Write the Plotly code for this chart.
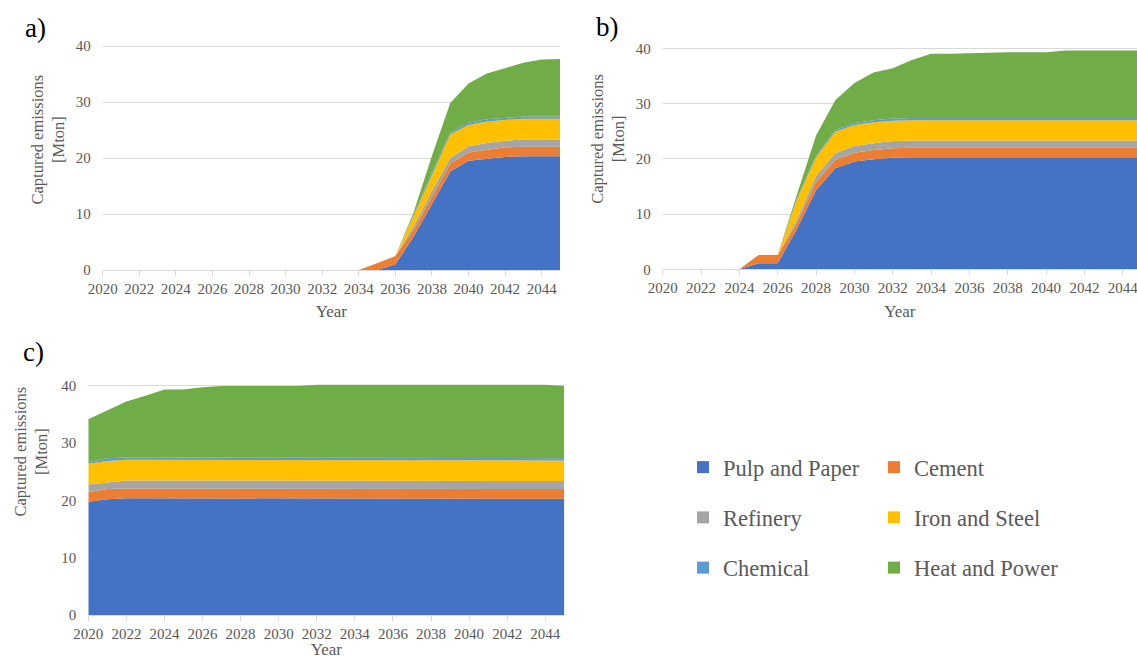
import plotly.graph_objects as go

W, H = 1137, 659

years = [2020, 2021, 2022, 2023, 2024, 2025, 2026, 2027, 2028, 2029, 2030, 2031, 2032,
         2033, 2034, 2035, 2036, 2037, 2038, 2039, 2040, 2041, 2042, 2043, 2044, 2045]

sectors = ["Pulp and Paper", "Cement", "Refinery", "Iron and Steel", "Chemical", "Heat and Power"]
colors = ["#4472C4", "#ED7D31", "#A5A5A5", "#FFC000", "#5B9BD5", "#70AD47"]

# ---- Panel a ----
a_pulp = [0, 0, 0, 0, 0, 0, 0, 0, 0, 0, 0, 0, 0, 0, 0,
          0, 1.0, 6.0, 11.8, 17.6, 19.5, 19.9, 20.2, 20.3, 20.3, 20.3]
a_cement = [0, 0, 0, 0, 0, 0, 0, 0, 0, 0, 0, 0, 0, 0, 0,
            1.2, 1.5, 1.2, 1.4, 1.4, 1.5, 1.6, 1.7, 1.7, 1.7, 1.7]
a_refinery = [0, 0, 0, 0, 0, 0, 0, 0, 0, 0, 0, 0, 0, 0, 0,
              0, 0, 0.6, 0.9, 1.0, 1.1, 1.2, 1.2, 1.3, 1.3, 1.3]
a_iron = [0, 0, 0, 0, 0, 0, 0, 0, 0, 0, 0, 0, 0, 0, 0,
          0, 0, 1.9, 3.0, 4.2, 3.8, 3.8, 3.7, 3.7, 3.7, 3.7]
a_chem = [0, 0, 0, 0, 0, 0, 0, 0, 0, 0, 0, 0, 0, 0, 0,
          0, 0, 0.2, 0.3, 0.3, 0.4, 0.4, 0.4, 0.4, 0.4, 0.4]
a_heat = [0, 0, 0, 0, 0, 0, 0, 0, 0, 0, 0, 0, 0, 0, 0,
          0, 0, 0.4, 3.0, 5.3, 7.0, 8.2, 8.8, 9.6, 10.2, 10.3]

# ---- Panel b ----
b_pulp = [0, 0, 0, 0, 0, 1.1, 1.1, 7.3, 14.3, 18.3, 19.5, 19.9, 20.2,
          20.3, 20.3, 20.3, 20.3, 20.3, 20.3, 20.3, 20.3, 20.3, 20.3, 20.3, 20.3, 20.3]
b_cement = [0, 0, 0, 0, 0, 1.5, 1.5, 1.1, 1.5, 1.5, 1.6, 1.7, 1.7,
            1.7, 1.7, 1.7, 1.7, 1.7, 1.7, 1.7, 1.7, 1.7, 1.7, 1.7, 1.7, 1.7]
b_refinery = [0, 0, 0, 0, 0, 0, 0, 0.6, 1.1, 1.2, 1.2, 1.2, 1.3,
              1.3, 1.3, 1.3, 1.3, 1.3, 1.3, 1.3, 1.3, 1.3, 1.3, 1.3, 1.3, 1.3]
b_iron = [0, 0, 0, 0, 0, 0, 0, 3.6, 3.4, 3.9, 3.8, 3.8, 3.7,
          3.7, 3.7, 3.7, 3.7, 3.7, 3.7, 3.7, 3.7, 3.7, 3.7, 3.7, 3.7, 3.7]
b_chem = [0, 0, 0, 0, 0, 0, 0, 0.2, 0.3, 0.3, 0.4, 0.4, 0.4,
          0.4, 0.4, 0.4, 0.4, 0.4, 0.4, 0.4, 0.4, 0.4, 0.4, 0.4, 0.4, 0.4]
b_heat = [0, 0, 0, 0, 0, 0, 0, 0.7, 3.6, 5.4, 7.2, 8.6, 9.1,
          10.5, 11.6, 11.6, 11.7, 11.9, 11.9, 11.9, 11.9, 12.2, 12.2, 12.2, 12.2, 12.2]

# ---- Panel c ----
c_pulp = [19.8, 20.2, 20.4, 20.4, 20.4, 20.4, 20.4, 20.4, 20.4, 20.4, 20.4, 20.4, 20.4,
          20.4, 20.4, 20.4, 20.4, 20.4, 20.4, 20.4, 20.4, 20.4, 20.4, 20.4, 20.4, 20.3]
c_cement = [1.7, 1.8, 1.7, 1.7, 1.7, 1.7, 1.7, 1.7, 1.7, 1.7, 1.7, 1.7, 1.7,
            1.7, 1.7, 1.7, 1.7, 1.7, 1.7, 1.7, 1.7, 1.7, 1.7, 1.7, 1.7, 1.7]
c_refinery = [1.3, 1.1, 1.4, 1.4, 1.4, 1.4, 1.4, 1.4, 1.4, 1.4, 1.4, 1.4, 1.4,
              1.4, 1.4, 1.4, 1.4, 1.4, 1.4, 1.4, 1.4, 1.4, 1.4, 1.4, 1.4, 1.4]
c_iron = [3.6, 3.8, 3.6, 3.6, 3.6, 3.6, 3.6, 3.6, 3.6, 3.6, 3.6, 3.6, 3.6,
          3.6, 3.6, 3.6, 3.6, 3.6, 3.6, 3.6, 3.6, 3.6, 3.6, 3.6, 3.6, 3.6]
c_chem = [0.3, 0.5, 0.4, 0.4, 0.4, 0.4, 0.4, 0.4, 0.4, 0.4, 0.4, 0.4, 0.4,
          0.4, 0.4, 0.4, 0.4, 0.4, 0.4, 0.4, 0.4, 0.4, 0.4, 0.4, 0.4, 0.4]
c_heat = [7.5, 8.4, 9.8, 10.8, 11.9, 11.9, 12.3, 12.5, 12.5, 12.5, 12.5, 12.5, 12.7,
          12.7, 12.7, 12.7, 12.7, 12.7, 12.7, 12.7, 12.7, 12.7, 12.7, 12.7, 12.7, 12.6]

x_ticks = [2020, 2022, 2024, 2026, 2028, 2030, 2032, 2034, 2036, 2038, 2040, 2042, 2044]
y_ticks = [0, 10, 20, 30, 40]

panels = [
    ("a", "x", "y", [a_pulp, a_cement, a_refinery, a_iron, a_chem, a_heat]),
    ("b", "x2", "y2", [b_pulp, b_cement, b_refinery, b_iron, b_chem, b_heat]),
    ("c", "x3", "y3", [c_pulp, c_cement, c_refinery, c_iron, c_chem, c_heat]),
]

GRID = "#D9D9D9"
TXT = "#595959"
SERIF = "Liberation Serif"

fig = go.Figure()
for key, xa, ya, series in panels:
    for name, col, vals in zip(sectors, colors, series):
        fig.add_trace(go.Scatter(
            x=years, y=vals, name=name, xaxis=xa, yaxis=ya,
            mode="lines", stackgroup="stack_" + key,
            line=dict(width=0, color=col), fillcolor=col,
            showlegend=False, hoverinfo="x+y+name",
        ))

# legend entries (square markers), two columns
col1 = [0, 2, 4]
col2 = [1, 3, 5]
for lg, idxs in (("legend", col1), ("legend2", col2)):
    for i in idxs:
        fig.add_trace(go.Scatter(
            x=[None], y=[None], mode="markers", name=sectors[i],
            marker=dict(symbol="square", size=12, color=colors[i]),
            legend=lg, legendgroup=sectors[i], showlegend=True,
            xaxis="x", yaxis="y",
        ))

def px_x(p):
    return p / W

def px_y(p):
    return (H - p) / H

YMAX = 40.5

def ydomain(y0pix, y40pix):
    scale = (y0pix - y40pix) / 40.0
    top = y0pix - YMAX * scale
    return [px_y(y0pix), px_y(top)]

def xaxis_cfg(domain, rng, anchor):
    return dict(
        domain=domain, range=rng, anchor=anchor, automargin=False,
        tickmode="array", tickvals=x_ticks, ticklabeloverflow="allow",
        showgrid=False, zeroline=False,
        showline=True, linecolor=GRID, linewidth=1,
        ticks="outside", ticklen=5, tickcolor=GRID, tickwidth=1,
        tickfont=dict(family=SERIF, size=15, color=TXT),
        title=dict(text="Year", font=dict(family=SERIF, size=17, color=TXT), standoff=9),
        fixedrange=True,
    )

def yaxis_cfg(domain, anchor):
    return dict(
        domain=domain, range=[0, YMAX], anchor=anchor, automargin=False,
        tickmode="array", tickvals=y_ticks,
        showgrid=True, gridcolor=GRID, gridwidth=1,
        zeroline=False, showline=False, ticks="",
        ticklabelstandoff=11,
        tickfont=dict(family=SERIF, size=15, color=TXT),
        fixedrange=True,
    )

# panel a: x 2020 at 102.7, 2045 at 560 ; y 0 at 270, 40 at 46
# panel b: x 2020 at 662.7, per year 19.17 (cut at right edge) ; y 0 at 269.3, 40 at 48.3
# panel c: x 2020 at 88.3, 2045 at 564.3 ; y 0 at 615, 40 at 386
b_end = 2020 + (W - 662.7) / 19.17

legend_common = dict(
    xanchor="left", yanchor="top", orientation="v", traceorder="grouped",
    tracegroupgap=18, font=dict(family=SERIF, size=22.5, color=TXT),
    bgcolor="rgba(0,0,0,0)",
)

fig.update_layout(
    width=W, height=H,
    margin=dict(l=0, r=0, t=0, b=0, autoexpand=False),
    paper_bgcolor="white", plot_bgcolor="white",
    xaxis=xaxis_cfg([px_x(102.7), px_x(560)], [2020, 2045], "y"),
    yaxis=yaxis_cfg(ydomain(270, 46), "x"),
    xaxis2=xaxis_cfg([px_x(662.7), 1.0], [2020, b_end], "y2"),
    yaxis2=yaxis_cfg(ydomain(269.3, 48.3), "x2"),
    xaxis3=xaxis_cfg([px_x(88.3), px_x(564.3)], [2020, 2045], "y3"),
    yaxis3=yaxis_cfg(ydomain(615, 386), "x3"),
    legend=dict(x=px_x(683), y=px_y(446), **legend_common),
    legend2=dict(x=px_x(874), y=px_y(446), **legend_common),
)

annotations = []
# panel labels
for label, xp, yp in (("a)", 23, 28), ("b)", 594, 27), ("c)", 21, 352)):
    annotations.append(dict(
        text=label, x=px_x(xp), y=px_y(yp), xref="paper", yref="paper",
        xanchor="left", yanchor="middle", showarrow=False,
        font=dict(family=SERIF, size=27, color="black"),
    ))
# y-axis titles
for xp, yp in ((47.5, 140), (607.8, 139), (30.5, 452)):
    annotations.append(dict(
        text="Captured emissions<br>[Mton]", x=px_x(xp), y=px_y(yp),
        xref="paper", yref="paper", xanchor="center", yanchor="middle",
        textangle=-90, showarrow=False, align="center",
        font=dict(family=SERIF, size=16.5, color=TXT),
    ))
fig.update_layout(annotations=annotations)

fig.write_html("out.html")
